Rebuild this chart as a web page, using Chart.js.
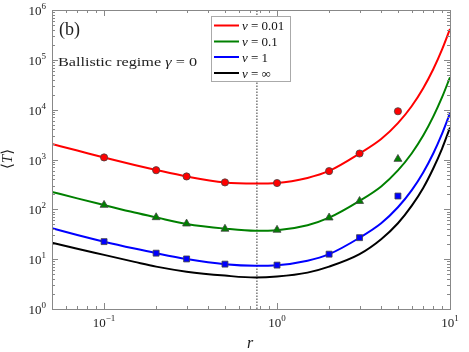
<!DOCTYPE html>
<html>
<head>
<meta charset="utf-8">
<script src="https://cdn.jsdelivr.net/npm/chart.js@4.4.1/dist/chart.umd.min.js"></script>
<style>
  html, body { margin: 0; padding: 0; background: #fff; }
</style>
</head>
<body>
<canvas id="c" width="469" height="352"></canvas>
<script>
// theory curves
const rGrid = [0.05, 0.07, 0.1, 0.15, 0.2, 0.3, 0.5, 0.75, 1, 1.5, 2, 3, 4, 5, 6, 7, 8, 9, 10];
const theory001 = [2042, 1514, 1096, 776, 617, 457, 347, 331, 339, 427, 589, 1318, 2570, 5370, 11700, 26900, 64600, 162000, 417000];
const theory01 = [224, 166, 122, 86.3, 69, 51, 41, 37, 38, 48, 68, 148, 288, 603, 1320, 3020, 7240, 17800, 44700];
const theory1 = [41.7, 30.5, 22.4, 16.3, 13.2, 10.1, 7.94, 7.41, 7.59, 9.33, 12.6, 26.9, 52.5, 110, 240, 550, 1320, 3310, 8510];
const theoryInf = [21.4, 16.2, 12.2, 8.83, 7.08, 5.62, 4.68, 4.27, 4.47, 5.37, 7.08, 12.6, 25.1, 52.5, 117, 269, 661, 1660, 4370];

// simulation markers
const rSim = [0.1, 0.2, 0.3, 0.5, 1, 2, 3, 5];
const sim001 = [1100, 610, 457, 347, 337, 585, 1318, 9300];
const sim01 = [122, 69, 51.5, 40.5, 38.6, 68, 146, 1020];
const sim1 = [22.5, 13.2, 10.1, 7.95, 7.6, 12.6, 27, 185];

// optimal r (dotted line)
const rOpt = [0.765, 0.765];
const rOptY = [1, 1e6];

// axis ticks
const xTickVals = [0.1, 1, 10];
const xTickExp = ['\u22121', '0', '1'];
const yTickVals = [1, 10, 100, 1000, 1e4, 1e5, 1e6];
const yTickExp = ['0', '1', '2', '3', '4', '5', '6'];
const minorMult = [2, 3, 4, 5, 6, 7, 8, 9];

const legendLabels = ['= 0.01', '= 0.1', '= 1', '= \u221e'];
const RED = '#ff0000', GREEN = '#008000', BLUE = '#0000ff', BLACK = '#000000';
const SERIF = '"Liberation Serif", "DejaVu Serif", serif';

function pts(xs, ys) {
  return xs.map((x, i) => ({ x: x, y: ys[i] }));
}

function curve(data, color) {
  return {
    data: pts(rGrid, data), showLine: true, borderColor: color, borderWidth: 2,
    pointRadius: 0, cubicInterpolationMode: 'monotone', fill: false
  };
}

function marks(data, color, style, radius) {
  return {
    data: pts(rSim, data), showLine: false, pointStyle: style, pointRadius: radius,
    backgroundColor: color, borderColor: '#444', borderWidth: 0.8
  };
}

const decor = {
  id: 'decor',
  afterDatasetsDraw(chart) {
    const ctx = chart.ctx, a = chart.chartArea;
    const xs = chart.scales.x, ys = chart.scales.y;
    ctx.save();

    // frame
    ctx.strokeStyle = '#888';
    ctx.lineWidth = 1;
    ctx.strokeRect(Math.round(a.left) + 0.5, Math.round(a.top) + 0.5,
      Math.round(a.right - a.left), Math.round(a.bottom - a.top));

    // inward ticks on all sides
    ctx.beginPath();
    for (let d = -2; d <= 1; d++) {
      const base = Math.pow(10, d);
      [1].concat(minorMult).forEach(m => {
        const v = m * base;
        if (v < 0.05 || v > 10) return;
        const px = Math.round(xs.getPixelForValue(v)) + 0.5;
        const len = m === 1 ? 6 : 3;
        ctx.moveTo(px, a.bottom); ctx.lineTo(px, a.bottom - len);
        ctx.moveTo(px, a.top); ctx.lineTo(px, a.top + len);
      });
    }
    for (let d = 0; d <= 6; d++) {
      const base = Math.pow(10, d);
      [1].concat(d < 6 ? minorMult : []).forEach(m => {
        const v = m * base;
        const py = Math.round(ys.getPixelForValue(v)) + 0.5;
        const len = m === 1 ? 6 : 3;
        ctx.moveTo(a.left, py); ctx.lineTo(a.left + len, py);
        ctx.moveTo(a.right, py); ctx.lineTo(a.right - len, py);
      });
    }
    ctx.stroke();

    // tick labels as 10^n
    ctx.fillStyle = '#222';
    const baseFont = '13px ' + SERIF, expFont = '9px ' + SERIF;
    function labelWidth(exp) {
      ctx.font = baseFont; const w1 = ctx.measureText('10').width;
      ctx.font = expFont; const w2 = ctx.measureText(exp).width;
      return [w1, w2];
    }
    ctx.textBaseline = 'alphabetic';
    ctx.textAlign = 'left';
    xTickVals.forEach((v, i) => {
      const [w1, w2] = labelWidth(xTickExp[i]);
      const x0 = xs.getPixelForValue(v) - (w1 + w2) / 2;
      ctx.font = baseFont; ctx.fillText('10', x0, 327);
      ctx.font = expFont; ctx.fillText(xTickExp[i], x0 + w1, 321);
    });
    yTickVals.forEach((v, i) => {
      const [w1, w2] = labelWidth(yTickExp[i]);
      const y = ys.getPixelForValue(v);
      const x0 = 46 - w1 - w2;
      ctx.font = baseFont; ctx.fillText('10', x0, y + 5);
      ctx.font = expFont; ctx.fillText(yTickExp[i], x0 + w1, y - 1);
    });

    // axis titles
    ctx.font = 'italic 16px ' + SERIF;
    ctx.textAlign = 'center';
    ctx.fillText('r', 250, 348);
    ctx.save();
    ctx.translate(12, 159);
    ctx.rotate(-Math.PI / 2);
    ctx.font = '15px ' + SERIF;
    const wl = ctx.measureText('\u27e8').width;
    ctx.font = 'italic 15px ' + SERIF;
    const wt = ctx.measureText('T').width;
    ctx.textAlign = 'left';
    const sx = -(2 * wl + wt) / 2;
    ctx.font = '15px ' + SERIF; ctx.fillText('\u27e8', sx, 0);
    ctx.font = 'italic 15px ' + SERIF; ctx.fillText('T', sx + wl, 0);
    ctx.font = '15px ' + SERIF; ctx.fillText('\u27e9', sx + wl + wt, 0);
    ctx.restore();

    // panel text
    ctx.textAlign = 'left';
    ctx.font = '18px ' + SERIF;
    ctx.fillText('(b)', 59, 35);

    const parts = [['Ballistic regime ', ''], ['\u03b3', 'italic '], [' = 0', '']];
    let total = 0;
    parts.forEach(p => { ctx.font = p[1] + '12.5px ' + SERIF; total += ctx.measureText(p[0]).width; });
    ctx.save();
    ctx.translate(58, 66);
    ctx.scale(139 / total, 1);
    let wx = 0;
    parts.forEach(p => {
      ctx.font = p[1] + '12.5px ' + SERIF;
      ctx.fillText(p[0], wx, 0);
      wx += ctx.measureText(p[0]).width;
    });
    ctx.restore();

    // legend box
    ctx.fillStyle = '#fff';
    ctx.fillRect(211, 16.5, 80, 65);
    ctx.strokeStyle = '#aaa';
    ctx.strokeRect(211.5, 16.5, 79, 65);
    const cols = [RED, GREEN, BLUE, BLACK];
    const rows = [25.5, 41.5, 57, 73];
    cols.forEach((c, i) => {
      ctx.strokeStyle = c; ctx.lineWidth = 2;
      ctx.beginPath(); ctx.moveTo(214, rows[i]); ctx.lineTo(239, rows[i]); ctx.stroke();
      ctx.fillStyle = '#111';
      ctx.font = 'italic 13px ' + SERIF;
      ctx.fillText('v', 242, rows[i] + 4.5);
      const vw = ctx.measureText('v').width;
      ctx.font = '13px ' + SERIF;
      ctx.fillText(' ' + legendLabels[i], 242 + vw, rows[i] + 4.5);
    });
    ctx.restore();
  }
};

new Chart(document.getElementById('c'), {
  type: 'scatter',
  data: {
    datasets: [
      marks(sim001, RED, 'circle', 3.6),
      marks(sim01, GREEN, 'triangle', 4.6),
      marks(sim1, BLUE, 'rect', 4.2),
      curve(theory001, RED),
      curve(theory01, GREEN),
      curve(theory1, BLUE),
      curve(theoryInf, BLACK),
      {
        data: pts(rOpt, rOptY), showLine: true, borderColor: '#555', borderWidth: 1.2,
        borderDash: [1.5, 1.5], pointRadius: 0
      }
    ]
  },
  options: {
    responsive: false,
    animation: false,
    layout: { padding: { left: 52, right: 19, top: 10, bottom: 43 } },
    scales: {
      x: {
        type: 'logarithmic', min: 0.05, max: 10,
        ticks: { display: false }, grid: { display: false }, border: { display: false },
        afterFit(scale) { scale.height = 0; }
      },
      y: {
        type: 'logarithmic', min: 1, max: 1e6,
        ticks: { display: false }, grid: { display: false }, border: { display: false },
        afterFit(scale) { scale.width = 0; }
      }
    },
    plugins: { legend: { display: false }, tooltip: { enabled: false } }
  },
  plugins: [decor]
});
</script>
</body>
</html>
